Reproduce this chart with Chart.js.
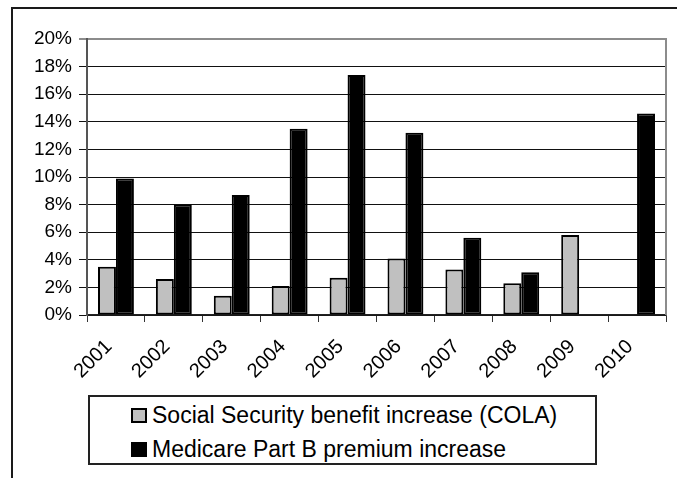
<!DOCTYPE html>
<html>
<head>
<meta charset="utf-8">
<script src="https://cdn.jsdelivr.net/npm/chart.js@4/dist/chart.umd.min.js"></script>
<style>
  html, body { margin: 0; padding: 0; background: #fff; }
  #wrap { position: relative; width: 677px; height: 478px; overflow: hidden; }
  #frame { position: absolute; left: 11px; top: 7px; width: 700px; height: 500px;
           border: 2px solid #1a1a1a; box-sizing: border-box; }
  #chart { position: absolute; left: 0; top: 0; }
  #legend { position: absolute; left: 88px; top: 395px; width: 509px; height: 70px;
            border: 2px solid #222; box-sizing: border-box; background: #fff;
            font-family: 'Liberation Sans', Arial, sans-serif; font-size: 23px; color: #000; }
  .item { position: absolute; left: 41px; display: flex; align-items: center; height: 24px; line-height: 1; }
  .sw { width: 16px; height: 15px; border: 2px solid #000; box-sizing: border-box; margin-right: 5px; }
</style>
</head>
<body>
<div id="wrap">
  <div id="frame"></div>
  <canvas id="chart" width="677" height="478"></canvas>
  <div id="legend"></div>
</div>
<script>
// Years on the category axis
const years = ['2001', '2002', '2003', '2004', '2005', '2006', '2007', '2008', '2009', '2010'];
// Annual Social Security cost-of-living adjustment, percent
const colaIncrease = [3.5, 2.6, 1.4, 2.1, 2.7, 4.1, 3.3, 2.3, 5.8, 0];
// Annual Medicare Part B premium increase, percent
const partBIncrease = [9.9, 8.0, 8.7, 13.5, 17.4, 13.2, 5.6, 3.1, 0, 14.6];
// Value axis ticks
const yTicks = [0, 2, 4, 6, 8, 10, 12, 14, 16, 18, 20];

Chart.defaults.font.family = "'Liberation Sans', Arial, sans-serif";
Chart.defaults.color = '#000';

// Grey right-hand edge of the plot area
const plotEdge = {
  id: 'plotEdge',
  beforeDatasetsDraw(chart) {
    const { ctx, chartArea } = chart;
    ctx.save();
    ctx.strokeStyle = '#8c8c8c';
    ctx.lineWidth = 2;
    ctx.beginPath();
    ctx.moveTo(chartArea.right, chartArea.top - 1);
    ctx.lineTo(chartArea.right, chartArea.bottom);
    ctx.stroke();
    ctx.restore();
  }
};

const chart = new Chart(document.getElementById('chart'), {
  type: 'bar',
  data: {
    labels: years,
    datasets: [
      { label: 'Social Security benefit increase (COLA)', data: colaIncrease,
        backgroundColor: '#c0c0c0', borderColor: '#000', borderWidth: 2, borderSkipped: false },
      { label: 'Medicare Part B premium increase', data: partBIncrease,
        backgroundColor: '#000', borderColor: '#000', borderWidth: 2, borderSkipped: false }
    ]
  },
  options: {
    responsive: false,
    animation: false,
    events: [],
    layout: { padding: { left: 0, top: 39, right: 11, bottom: 0 } },
    datasets: { bar: { categoryPercentage: 0.62, barPercentage: 1.0 } },
    plugins: { legend: { display: false }, tooltip: { enabled: false } },
    scales: {
      x: {
        afterFit(scale) { scale.height = 163; },
        grid: { display: true, drawOnChartArea: false, drawTicks: true, tickLength: 7, color: '#333', lineWidth: 1 },
        border: { display: true, color: '#222', width: 1.5 },
        ticks: { autoSkip: false, minRotation: 45, maxRotation: 45, padding: 13, labelOffset: -7,
                 font: { size: 20 } }
      },
      y: {
        min: 0, max: 20,
        afterFit(scale) { scale.width = 87; },
        afterBuildTicks(scale) { scale.ticks = yTicks.map(v => ({ value: v })); },
        grid: {
          color: ctx => (ctx.tick && ctx.tick.value === 20) ? '#8c8c8c' : '#111',
          lineWidth: ctx => (ctx.tick && ctx.tick.value === 20) ? 2 : 1,
          tickLength: 8
        },
        border: { display: true, color: '#555', width: 2 },
        ticks: { padding: 7, font: { size: 19 }, callback: v => v + '%' }
      }
    }
  },
  plugins: [plotEdge]
});

// Boxed legend listing each dataset with its swatch
const legend = document.getElementById('legend');
chart.data.datasets.forEach((ds, i) => {
  const row = document.createElement('div');
  row.className = 'item';
  row.style.top = (i === 0 ? 6 : 40) + 'px';
  const sw = document.createElement('span');
  sw.className = 'sw';
  sw.style.background = ds.backgroundColor;
  const txt = document.createElement('span');
  txt.textContent = ds.label;
  row.appendChild(sw);
  row.appendChild(txt);
  legend.appendChild(row);
});
</script>
</body>
</html>
